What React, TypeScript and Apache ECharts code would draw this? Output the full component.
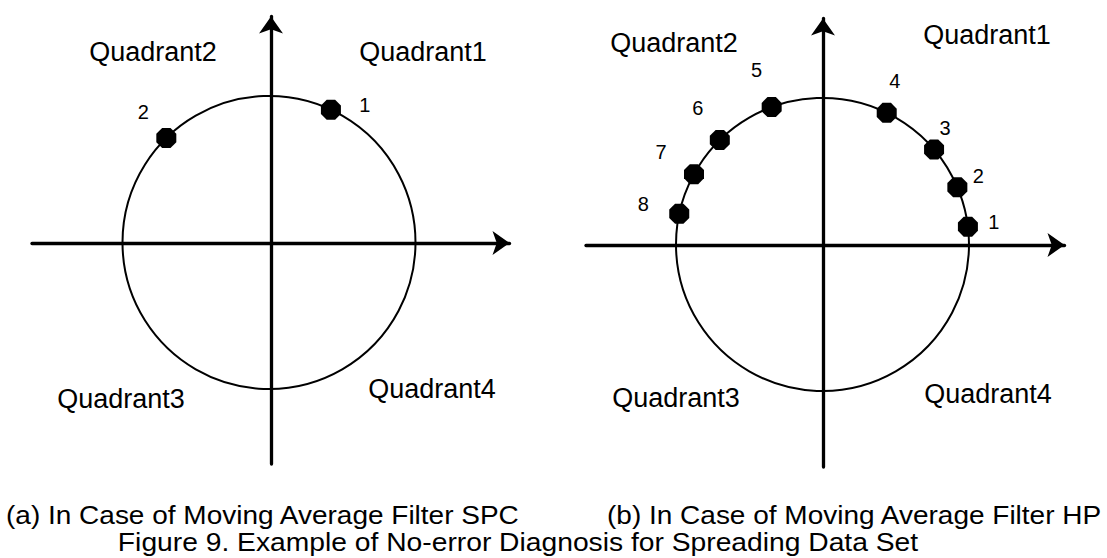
import React, { useEffect, useRef } from "react";
import * as echarts from "echarts";

// Point angles (degrees, counter-clockwise from the positive horizontal axis) on the unit circle
const panelAAngles = [65, 134.5];
const panelALabels = ["1", "2"];
const panelBAngles = [7, 23, 40.4, 64, 110.3, 134.5, 151.3, 167.9];
const panelBLabels = ["1", "2", "3", "4", "5", "6", "7", "8"];
const quadrantNames = ["Quadrant1", "Quadrant2", "Quadrant3", "Quadrant4"];
const captionA = "(a) In Case of Moving Average Filter SPC";
const captionB = "(b) In Case of Moving Average Filter HP";
const figureTitle = "Figure 9. Example of No-error Diagnosis for Spreading Data Set";

// label offsets (styling only)
const labelOffsetsA: number[][] = [[34, -5], [-23, -26]];
const labelOffsetsB: number[][] = [
  [26, -5], [21, -11], [11, -22], [8, -32], [-15, -37], [-22, -32], [-33, -22], [-36, -10],
];

const FONT = "'Liberation Sans', Arial, Helvetica, sans-serif";
const OCTAGON = "path://M29,0 L71,0 L100,29 L100,71 L71,100 L29,100 L0,71 L0,29 Z";

export default function App() {
  const ref = useRef<HTMLDivElement>(null);
  useEffect(() => {
    document.body.style.margin = "0";
    if (!ref.current) return;
    const chart = echarts.init(ref.current, undefined, { renderer: "svg" });

    const axisLineStyle = { color: "#000", width: 3.3 };
    const mkAxis = (gi: number, min: number, max: number) => ({
      type: "value", gridIndex: gi, min, max,
      axisLine: { show: true, onZero: true, symbol: ["none", "arrow"], symbolSize: [18, 17], lineStyle: axisLineStyle },
      axisTick: { show: false }, axisLabel: { show: false }, splitLine: { show: false },
    });
    const angleAx = (pi: number) => ({
      polarIndex: pi, type: "value", min: 0, max: 360, startAngle: 0, clockwise: false,
      axisLine: { show: true, lineStyle: { color: "#000", width: 2 } },
      axisTick: { show: false }, axisLabel: { show: false }, splitLine: { show: false },
    });
    const radiusAx = (pi: number) => ({
      polarIndex: pi, type: "value", min: 0, max: 1, show: false,
      axisLine: { show: false }, axisTick: { show: false }, axisLabel: { show: false }, splitLine: { show: false },
    });
    const pts = (angles: number[], labels: string[], offs: number[][]) =>
      angles.map((a, i) => ({
        value: [1, a],
        label: {
          show: true, formatter: labels[i], offset: offs[i], position: "inside",
          color: "#000", fontSize: 20, fontFamily: FONT,
        },
      }));

    const qText = (text: string, x: number, y: number) => ({
      type: "text", x, y,
      style: { text, fill: "#000", font: `27px ${FONT}`, textAlign: "center", textVerticalAlign: "middle" },
    });
    const capText = (text: string, x: number, y: number, align: string, sx: number) => ({
      type: "text", x, y, scaleX: sx,
      style: { text, fill: "#000", font: `25px ${FONT}`, textAlign: align, textVerticalAlign: "middle" },
    });

    const seriesCommon = {
      type: "scatter", coordinateSystem: "polar",
      symbol: OCTAGON, symbolSize: 20,
      itemStyle: { color: "#000", opacity: 1 },
      emphasis: { disabled: true },
    };

    chart.setOption({
      animation: false,
      backgroundColor: "#fff",
      grid: [
        { left: 32, top: 16.5, width: 477.5, height: 447.5 },
        { left: 586, top: 18.5, width: 478.5, height: 448.5 },
      ],
      xAxis: [mkAxis(0, -239, 238.5), mkAxis(1, -237, 241.5)],
      yAxis: [mkAxis(0, -221, 226.5), mkAxis(1, -222, 226.5)],
      polar: [
        { center: [269, 242.5], radius: 146.5 },
        { center: [822.5, 244.5], radius: 146.5 },
      ],
      angleAxis: [angleAx(0), angleAx(1)],
      radiusAxis: [radiusAx(0), radiusAx(1)],
      series: [
        { ...seriesCommon, polarIndex: 0, data: pts(panelAAngles, panelALabels, labelOffsetsA) },
        { ...seriesCommon, polarIndex: 1, data: pts(panelBAngles, panelBLabels, labelOffsetsB) },
      ],
      graphic: [
        qText(quadrantNames[1], 153, 52),
        qText(quadrantNames[0], 423, 52),
        qText(quadrantNames[2], 121, 399),
        qText(quadrantNames[3], 432, 389),
        qText(quadrantNames[1], 674, 43),
        qText(quadrantNames[0], 987, 35),
        qText(quadrantNames[2], 676, 398),
        qText(quadrantNames[3], 988, 394),
        capText(captionA, 6, 516, "left", 1.12),
        capText(captionB, 607, 516, "left", 1.12),
        capText(figureTitle, 518, 543, "center", 1.13),
      ],
    });
    return () => chart.dispose();
  }, []);
  return <div ref={ref} style={{ width: 1107, height: 558 }} />;
}
